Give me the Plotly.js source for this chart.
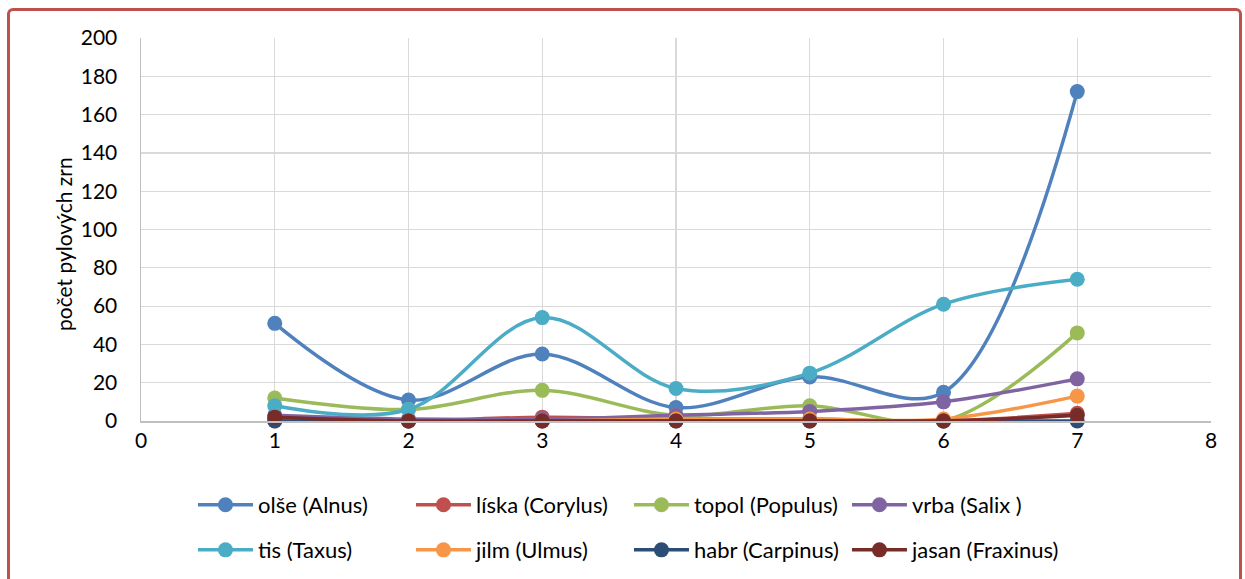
<!DOCTYPE html>
<html><head><meta charset="utf-8">
<script src="https://cdn.plot.ly/plotly-3.0.1.min.js"></script>
<style>
html,body{margin:0;padding:0;background:#fff;overflow:hidden;}
#frame{position:absolute;left:7px;top:8px;width:1235px;height:600px;border:3px solid #c0504d;border-radius:6px;box-sizing:border-box;}
#chart{position:absolute;left:0;top:0;width:1245px;height:579px;}
</style>
</head><body>
<div id="chart"></div>
<div id="frame"></div>
<script>
const xValues = [1, 2, 3, 4, 5, 6, 7];
const seriesNames = ["olše (Alnus)", "líska (Corylus)", "topol (Populus)", "vrba (Salix )",
                     "tis (Taxus)", "jilm (Ulmus)", "habr (Carpinus)", "jasan (Fraxinus)"];
const yTitle = "počet pylových zrn";
const alnus     = [51, 11, 35, 7, 23, 15, 172];
const corylus   = [1, 0, 2, 1, 1, 0, 4];
const populus   = [12, 6, 16, 3, 8, 0, 46];
const salix     = [3, 1, 1, 3, 5, 10, 22];
const taxus     = [8, 6, 54, 17, 25, 61, 74];
const ulmus     = [0, 0, 0, 1, 1, 1, 13];
const carpinus  = [0, 0, 0, 0, 0, 0, 0];
const fraxinus  = [2, 0, 0, 0, 0, 0, 3];
const seriesValues = [alnus, corylus, populus, salix, taxus, ulmus, carpinus, fraxinus];
const colors = ["#4F81BD", "#C0504D", "#9BBB59", "#8064A2", "#4BACC6", "#F79646", "#2C4D75", "#772C2A"];

const FONT = "Lato, 'Open Sans', sans-serif";
const traces = seriesValues.map((vals, i) => ({
  x: xValues, y: vals, name: seriesNames[i], type: "scatter", mode: "lines+markers",
  line: {color: colors[i], width: 3.5, shape: "spline", smoothing: 1},
  marker: {color: colors[i], size: 15},
  legend: i < 4 ? "legend" : "legend2",
  cliponaxis: false
}));

const legendCommon = {
  orientation: "h", xanchor: "left", yanchor: "middle", xref: "container", yref: "container",
  font: {family: FONT, size: 22, color: "#000"},
  bgcolor: "rgba(0,0,0,0)", itemwidth: 55, entrywidth: 148, entrywidthmode: "pixels",
  itemclick: false
};

const layout = {
  width: 1245, height: 579,
  margin: {l: 141, r: 34, t: 38, b: 158},
  paper_bgcolor: "rgba(0,0,0,0)", plot_bgcolor: "#fff",
  font: {family: FONT, size: 20, color: "#000"},
  showlegend: true,
  xaxis: {range: [0, 8], dtick: 1, tick0: 0, showgrid: true, gridcolor: "#d9d9d9", gridwidth: 1.2,
          zeroline: false, showline: true, linecolor: "#bfbfbf", linewidth: 1.5, ticks: "",
          tickfont: {family: FONT, size: 21}, fixedrange: true},
  yaxis: {range: [0, 200], dtick: 20, showgrid: true, gridcolor: "#d9d9d9", gridwidth: 1.2,
          zeroline: false, showline: true, linecolor: "#bfbfbf", linewidth: 1.5, ticks: "",
          ticklabelstandoff: 18,
          tickfont: {family: FONT, size: 21},
          fixedrange: true},
  annotations: [{
    text: yTitle, textangle: -90, xref: "paper", yref: "paper", x: -0.0729, y: 0.462,
    xanchor: "center", yanchor: "middle", showarrow: false,
    font: {family: FONT, size: 21, color: "#000"}
  }],
  legend: Object.assign({}, legendCommon, {x: 0.155, y: 0.128}),
  legend2: Object.assign({}, legendCommon, {x: 0.155, y: 0.05})
};

Plotly.newPlot("chart", traces, layout, {displayModeBar: false, staticPlot: true});
</script>
</body></html>
